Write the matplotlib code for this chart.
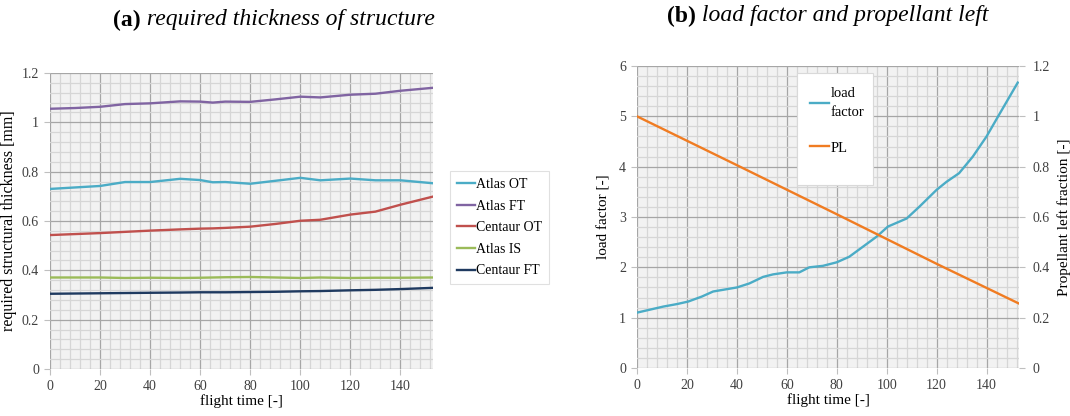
import matplotlib
matplotlib.use("Agg")
import matplotlib.pyplot as plt
from matplotlib.ticker import MultipleLocator
from matplotlib.patches import Rectangle

# ---------------- data ----------------
t_left = [0, 10, 20, 30, 40, 52, 60, 65, 70, 80, 90, 100, 108, 120, 130, 140, 153]
atlas_ot = [0.730, 0.736, 0.742, 0.758, 0.758, 0.771, 0.766, 0.757, 0.758, 0.751, 0.763, 0.775, 0.765, 0.772, 0.765, 0.765, 0.753]
atlas_ft = [1.055, 1.058, 1.063, 1.074, 1.077, 1.085, 1.084, 1.080, 1.084, 1.083, 1.093, 1.104, 1.101, 1.112, 1.116, 1.128, 1.140]
centaur_ot = [0.543, 0.547, 0.551, 0.556, 0.561, 0.566, 0.569, 0.570, 0.572, 0.577, 0.588, 0.601, 0.605, 0.626, 0.638, 0.666, 0.699]
atlas_is = [0.371, 0.371, 0.371, 0.369, 0.370, 0.369, 0.370, 0.371, 0.372, 0.373, 0.371, 0.369, 0.371, 0.369, 0.370, 0.370, 0.371]
centaur_ft = [0.305, 0.306, 0.307, 0.308, 0.309, 0.310, 0.311, 0.311, 0.311, 0.312, 0.313, 0.315, 0.316, 0.319, 0.321, 0.324, 0.329]
left_labels = ["Atlas OT", "Atlas FT", "Centaur OT", "Atlas IS", "Centaur FT"]
left_colors = ["#4BACC6", "#8064A2", "#C0504D", "#9BBB59", "#1F3A60"]

t_load = [0, 10.5, 16, 20.5, 26, 30.5, 40, 45, 50.5, 54.5, 60, 65, 69, 74.5, 80, 85, 90.5, 96,
          100.5, 108, 113, 120, 124, 129, 134.5, 140, 145, 152.5]
load_factor = [1.10, 1.22, 1.27, 1.32, 1.42, 1.52, 1.60, 1.68, 1.81, 1.86, 1.90, 1.90, 2.00, 2.03,
               2.10, 2.21, 2.41, 2.61, 2.81, 2.97, 3.20, 3.54, 3.70, 3.87, 4.20, 4.60, 5.03, 5.67]
t_pl = [0, 40, 80, 120, 153]
pl = [1.0, 0.806, 0.611, 0.414, 0.256]

title_a = ("(a)", "required thickness of structure")
title_b = ("(b)", "load factor and propellant left")

# ---------------- style ----------------
SERIF = ["Liberation Serif", "DejaVu Serif"]
plt.rcParams["font.family"] = SERIF
BG = "#F2F2F2"
MAJ = "#A6A6A6"
MIN = "#D6D6D6"
TICKC = "#404040"
W, H = 1070, 416

fig = plt.figure(figsize=(10.7, 4.16), dpi=100)
axL = fig.add_axes([50/W, 1-369/H, (433-50)/W, (369-73)/H])
axR = fig.add_axes([637/W, 1-368/H, (1019-637)/W, (368-66)/H])


def style_axes(ax, ymax, ymaj, ymin):
    ax.set_facecolor(BG)
    ax.set_xlim(0, 153)
    ax.set_ylim(0, ymax)
    ax.xaxis.set_major_locator(MultipleLocator(20))
    ax.xaxis.set_minor_locator(MultipleLocator(4))
    ax.yaxis.set_major_locator(MultipleLocator(ymaj))
    ax.yaxis.set_minor_locator(MultipleLocator(ymin))
    ax.grid(which="minor", color=MIN, lw=0.9)
    ax.grid(which="major", color=MAJ, lw=0.9)
    ax.set_axisbelow(True)
    for s in ax.spines.values():
        s.set_visible(False)
    ax.tick_params(which="major", length=4, color="#BFBFBF", labelsize=10,
                   labelcolor=TICKC, pad=4)
    ax.tick_params(which="minor", length=0)


style_axes(axL, 1.2, 0.2, 0.04)
for y, lab, c in zip([atlas_ot, atlas_ft, centaur_ot, atlas_is, centaur_ft], left_labels, left_colors):
    axL.plot(t_left, y, color=c, lw=1.7, label=lab)
axL.yaxis.set_major_formatter(plt.FuncFormatter(lambda v, p: f"{v:g}"))
axL.set_xlabel("flight time [-]", fontsize=11, labelpad=1)
axL.set_ylabel("required structural thickness [mm]", fontsize=11.5, labelpad=3)
legL = axL.legend(loc="upper left", bbox_to_anchor=(450/W, 1-171/H), bbox_transform=fig.transFigure,
                  fontsize=10, frameon=True, fancybox=False, handlelength=1.3, handletextpad=0.1,
                  borderpad=0.5, labelspacing=0.62, borderaxespad=0)
legL.get_frame().set_edgecolor("#D9D9D9")
legL.get_frame().set_linewidth(0.8)

style_axes(axR, 6, 1, 0.2)
axR.set_xlabel("flight time [-]", fontsize=11, labelpad=1)
axR.set_ylabel("load factor [-]", fontsize=11, labelpad=6)
l1, = axR.plot(t_load, load_factor, color="#4BACC6", lw=1.7, label="load\nfactor")
axR2 = axR.twinx()
axR2.set_ylim(0, 1.2)
axR2.yaxis.set_major_locator(MultipleLocator(0.2))
axR2.yaxis.set_major_formatter(plt.FuncFormatter(lambda v, p: f"{v:g}"))
for s in axR2.spines.values():
    s.set_visible(False)
axR2.tick_params(length=4, color="#BFBFBF", labelsize=10, labelcolor=TICKC, pad=6)
l2, = axR2.plot(t_pl, pl, color="#F07C22", lw=1.7, label="PL")
axR2.set_ylabel("Propellant left fraction [-]", fontsize=11, labelpad=5)

# legend box of panel (b): white rectangle drawn in figure coordinates
box = Rectangle((797/W, 1-185/H), (873-797)/W, (185-73)/H, transform=fig.transFigure,
                facecolor="white", edgecolor="#D9D9D9", lw=0.8, zorder=5)
axR2.add_artist(box)
legR = axR2.legend([l1, l2], ["load\nfactor", "PL"], loc="upper left",
                   bbox_to_anchor=(803/W, 1-80/H), bbox_transform=fig.transFigure,
                   fontsize=10.5, frameon=False, handlelength=1.3, handletextpad=0.1,
                   borderpad=0.5, labelspacing=1.55, borderaxespad=0)
for t in legR.get_texts():
    t.set_linespacing(1.55)
legR.set_zorder(6)


def two_part_title(xc, y, parts, size=17):
    r = fig.canvas.get_renderer()
    t1 = fig.text(0, y, parts[0], fontsize=size, fontweight="bold", va="center", ha="left")
    t2 = fig.text(0, y, " " + parts[1], fontsize=size, fontstyle="italic", va="center", ha="left")
    w1 = t1.get_window_extent(r).width / fig.bbox.width
    w2 = t2.get_window_extent(r).width / fig.bbox.width
    x0 = xc - (w1 + w2) / 2
    t1.set_x(x0)
    t2.set_x(x0 + w1)


two_part_title(274/W, 1-20/H, title_a)
two_part_title(828/W, 1-16/H, title_b)

fig.savefig("out.png", dpi=100)
